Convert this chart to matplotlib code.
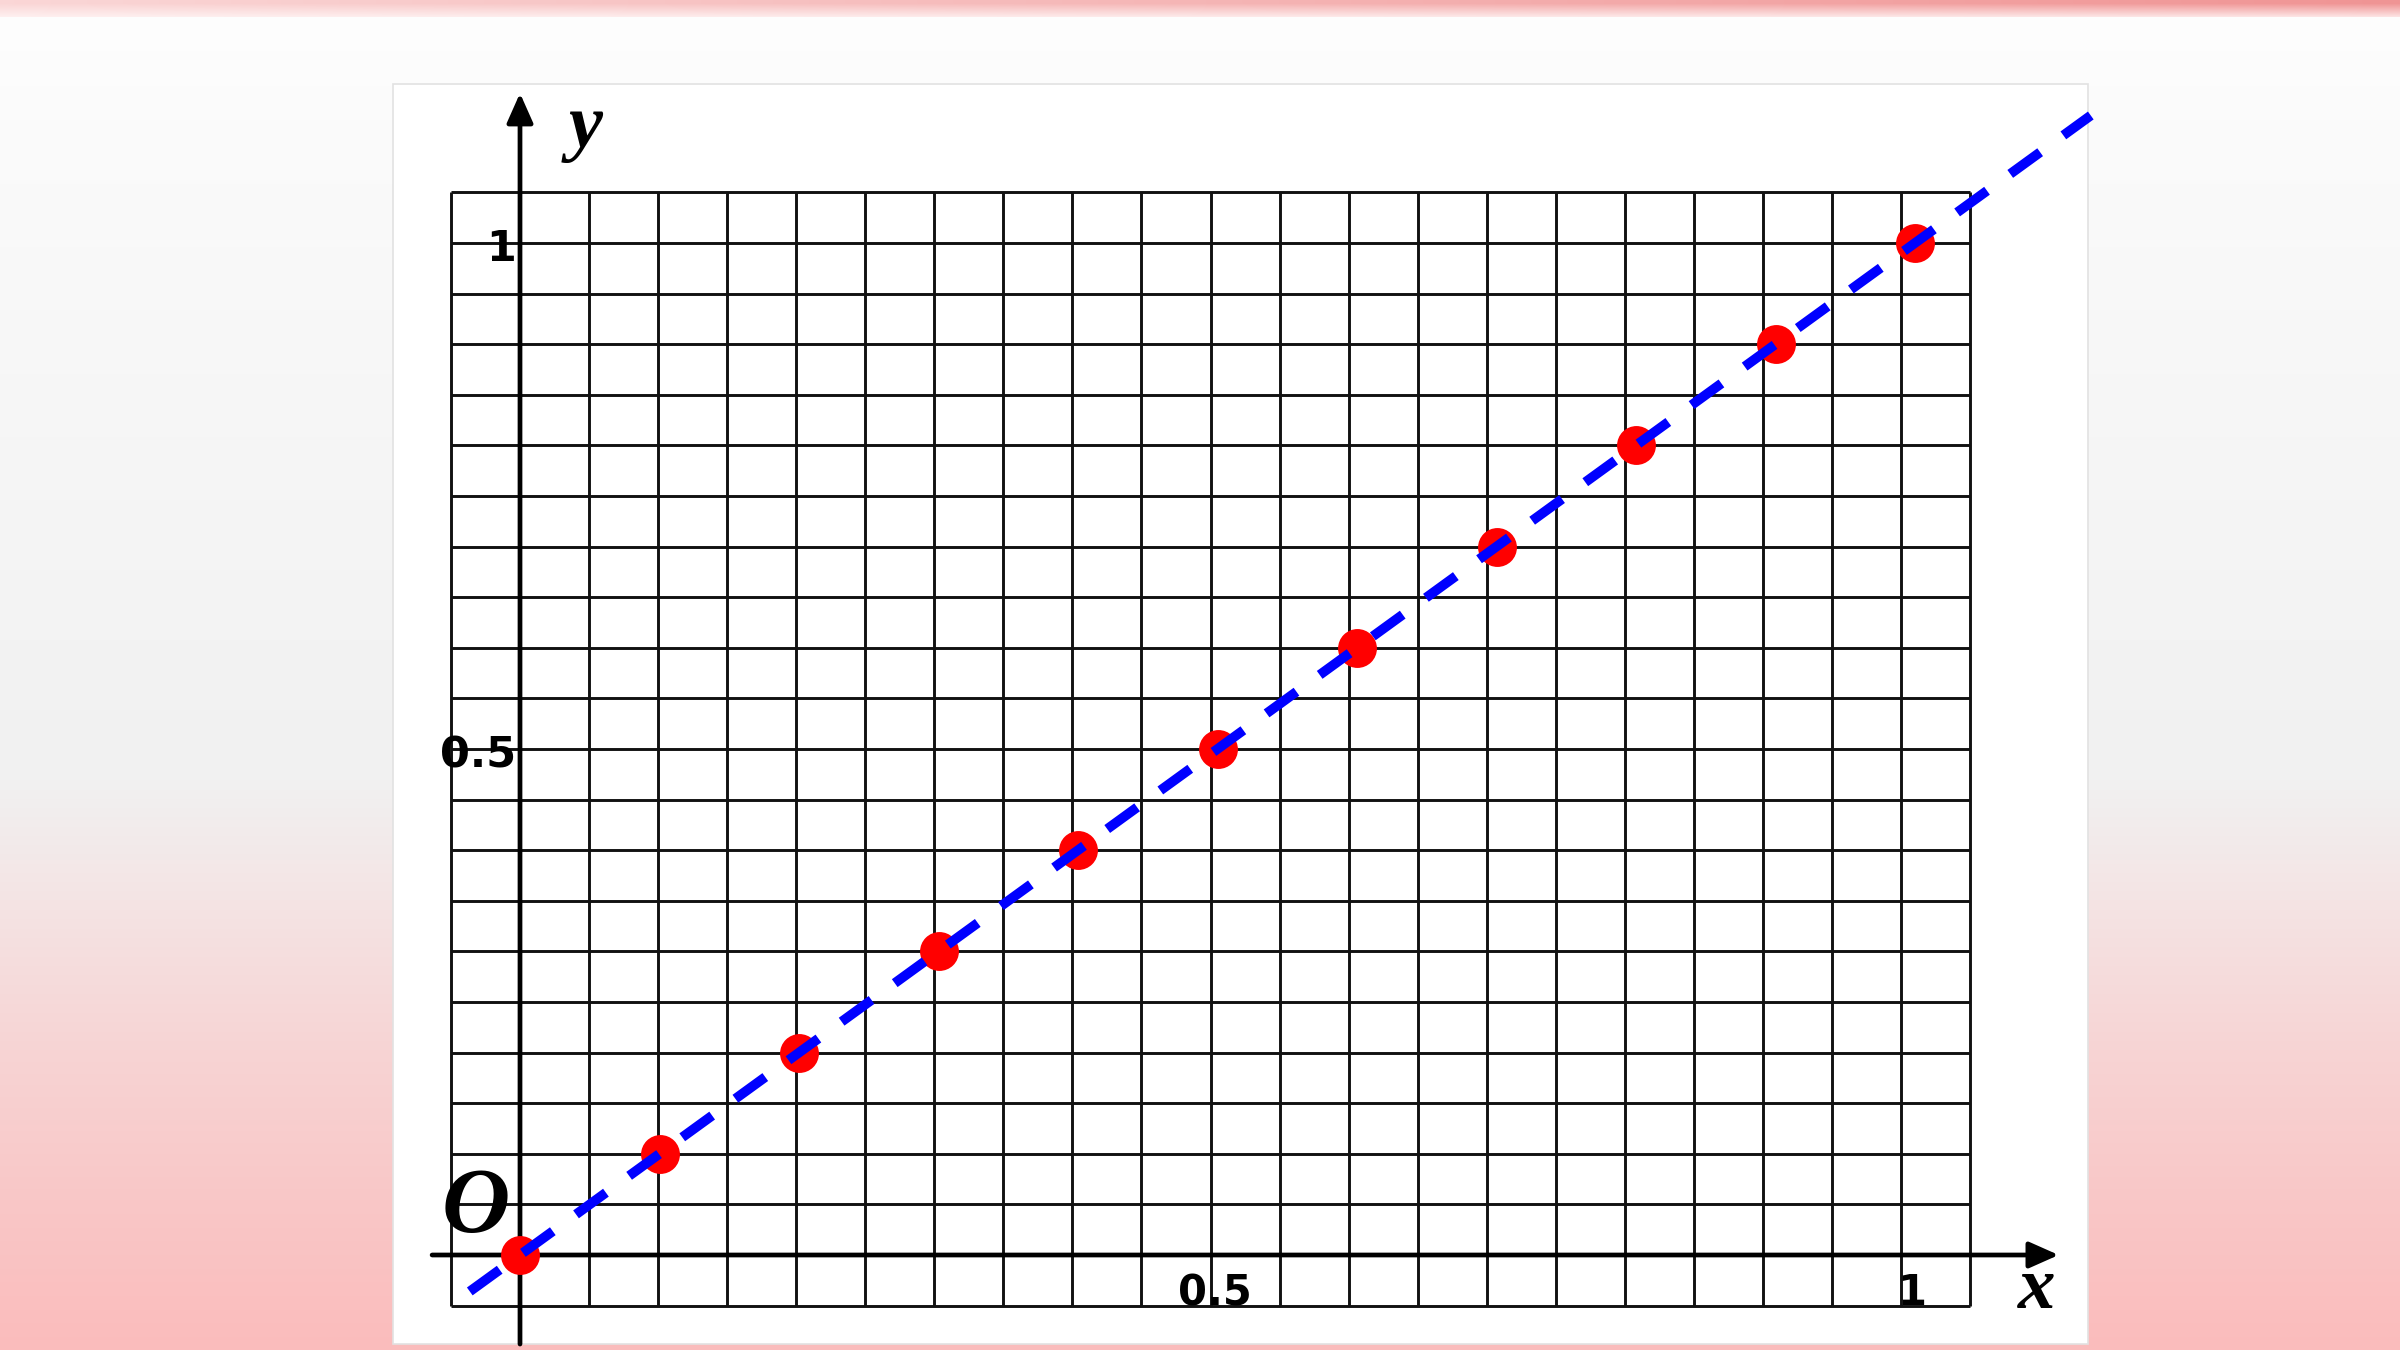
import matplotlib
matplotlib.use('Agg')
import matplotlib.pyplot as plt
import numpy as np
from matplotlib.patches import Rectangle
from matplotlib.colors import to_rgb

# data: sample points and the fitted line y = x
x_pts = [0.0, 0.1, 0.2, 0.3, 0.4, 0.5, 0.6, 0.7, 0.8, 0.9, 1.0]
y_pts = [0.0, 0.1, 0.2, 0.3, 0.4, 0.5, 0.6, 0.7, 0.8, 0.9, 1.0]
line_x = [-0.036, 1.126]
line_y = [-0.036, 1.126]

x_ticks = [0.5, 1.0]
x_tick_labels = ['0.5', '1']
y_ticks = [0.5, 1.0]
y_tick_labels = ['0.5', '1']

# grid paper: 22 x 22 cells (the printed grid is a bit narrower than the data scale in x)
n_cells = 22
grid_dx = 0.0495
grid_dy = 0.05

# figure / pixel calibration
W, H, DPI = 2400, 1350, 100
X0_PX, X_SCALE = 520, 1395   # pixel column of x=0, pixels per unit
Y0_PX, Y_SCALE = 1255, 1012  # pixel row of y=0, pixels per unit

fig = plt.figure(figsize=(W / DPI, H / DPI), dpi=DPI)

# slide background
bg = fig.add_axes([0, 0, 1, 1], zorder=0)
rows = np.arange(H)
stop_rows = [16, 120, 500, 780, 900, 1050, 1200, 1350]
stop_cols = ['#fefefe', '#fbfbfb', '#f5f5f5', '#f1f1f1', '#f4e4e4', '#f7d4d4', '#f9c7c7', '#fbbcbc']
stop_rgb = np.array([to_rgb(c) for c in stop_cols])
ncol = 240
img = np.zeros((H, ncol, 3))
for ch in range(3):
    img[:, :, ch] = np.interp(rows, stop_rows, stop_rgb[:, ch])[:, None]
# pink strip along the top
s = np.linspace(0.3, 0.95, ncol)
band = np.array(to_rgb('#ef8f8f'))
for r in range(17):
    k = s * (1.0 - (r - 3) / 16.0) if r > 3 else s
    img[r] = (1 - k[:, None]) * np.array([1.0, 0.96, 0.96]) + k[:, None] * band
bg.imshow(img, aspect='auto', extent=(0, 1, 0, 1), interpolation='bilinear')
bg.add_patch(Rectangle((393 / W, (H - 1344) / H), (2088 - 393) / W, (1344 - 84) / H,
                       facecolor='white', edgecolor='#e2e2e2', lw=1.2))
bg.set_xlim(0, 1)
bg.set_ylim(0, 1)
bg.axis('off')

# data axes
ax = fig.add_axes([0, 0, 1, 1], zorder=1)
ax.patch.set_visible(False)
ax.set_xlim(-X0_PX / X_SCALE, (W - X0_PX) / X_SCALE)
ax.set_ylim(-(H - Y0_PX) / Y_SCALE, Y0_PX / Y_SCALE)
ax.axis('off')

gx = grid_dx * (np.arange(n_cells + 1) - 1)
gy = grid_dy * (np.arange(n_cells + 1) - 1)
ax.vlines(gx, gy[0], gy[-1], colors='#111111', lw=2.1, zorder=2)
ax.hlines(gy, gx[0], gx[-1], colors='#111111', lw=2.1, zorder=2)

# coordinate axes with arrows
arrow = dict(arrowstyle='-|>,head_length=0.45,head_width=0.2', lw=3.4, color='black',
             mutation_scale=40, shrinkA=0, shrinkB=0)
ax.annotate('', xy=(1.103, 0), xytext=(-0.063, 0), arrowprops=arrow, zorder=3)
ax.annotate('', xy=(0, 1.148), xytext=(0, -0.088), arrowprops=arrow, zorder=3)

ax.plot(x_pts, y_pts, 'o', color='#ff0000', ms=28, mec='none', zorder=4)
ax.plot(line_x, line_y, color='#0000ff', lw=7, linestyle=(0, (3.8, 2.95)),
        solid_capstyle='butt', dash_capstyle='butt', zorder=5)

serif = dict(family='Liberation Serif', weight='bold', style='italic', color='black')
ax.text(0.047, 1.113, 'y', fontsize=55, ha='center', va='center', zorder=6, **serif)
ax.text(1.087, -0.035, 'x', fontsize=54, ha='center', va='center', zorder=6, **serif)
ax.text(-0.032, 0.045, 'O', fontsize=68, ha='center', va='center', zorder=6, **serif)

for v, lab in zip(x_ticks, x_tick_labels):
    ax.annotate(lab, xy=(v, 0), xytext=(-2, -36), textcoords='offset points',
                ha='center', va='baseline', fontsize=30, fontweight='bold',
                family='DejaVu Sans', zorder=6)
for v, lab in zip(y_ticks, y_tick_labels):
    ax.annotate(lab, xy=(0, v), xytext=(-3, -13), textcoords='offset points',
                ha='right', va='baseline', fontsize=31, fontweight='bold',
                family='DejaVu Sans', zorder=6)

fig.savefig('out.png', dpi=DPI)
